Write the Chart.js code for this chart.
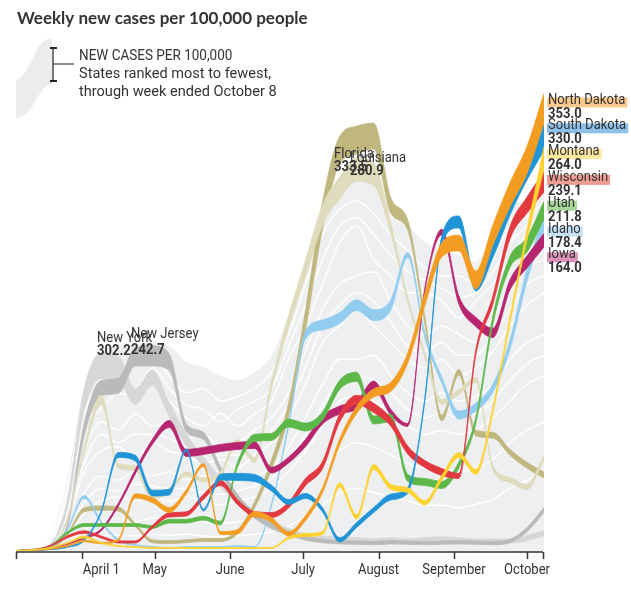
<!DOCTYPE html>
<html>
<head>
<meta charset="utf-8">
<script src="https://cdn.jsdelivr.net/npm/chart.js@4.4.1/dist/chart.umd.min.js"></script>
<style>
  html, body { margin: 0; padding: 0; background: #fff; }
  canvas { display: block; }
</style>
</head>
<body>
<canvas id="chart" width="631" height="589"></canvas>
<script>
// x values: days since March 1, one point per week (Mar 5 .. Oct 8)
const weekDays = [4, 11, 18, 25, 32, 39, 46, 53, 60, 67, 74, 81, 88, 95, 102, 109,
  116, 123, 130, 137, 144, 151, 158, 165, 172, 179, 186, 193, 200, 207, 214, 221];
const monthTicks = [31, 61, 92, 122, 153, 184, 214];
const monthLabels = ['April 1', 'May', 'June', 'July', 'August', 'September', 'October'];

// every state is stacked by rank: "base" = where its ribbon starts, "cases" = its width
// (weekly new cases per 100,000)
const otherTop = [12, 48, 192, 852, 1992, 2412, 2436, 2472, 2496, 2460, 2268, 2208, 2100, 2052, 2148, 2340,
  2832, 3396, 4092, 4452, 4500, 4452, 4092, 3912, 3708, 3612, 3552, 3468, 3792, 4152, 4212, 4392];
const otherEdge1 = [0, 40, 170, 760, 1800, 2250, 2150, 2300, 2350, 2100, 1900, 1950, 1800, 1850, 1950, 2150, 2600, 3200, 3800, 4100, 4200, 4050, 3800, 3600, 3400, 3300, 3300, 3200, 3500, 3900, 4000, 4200];
const otherEdge2 = [0, 30, 130, 600, 1500, 1700, 1900, 1850, 2000, 1800, 1600, 1500, 1650, 1500, 1650, 1800, 2300, 2700, 3200, 3700, 3900, 3500, 3300, 3100, 3100, 3000, 2800, 3000, 3200, 3500, 3800, 3900];
const otherEdge3 = [0, 25, 100, 480, 1200, 1550, 1450, 1650, 1500, 1550, 1350, 1400, 1250, 1300, 1450, 1600, 1900, 2400, 2900, 3200, 3300, 3350, 3000, 2700, 2600, 2700, 2600, 2500, 2800, 3100, 3400, 3500];
const otherEdge4 = [0, 18, 80, 350, 950, 1200, 1250, 1100, 1300, 1200, 1150, 1050, 1100, 1000, 1150, 1300, 1600, 2000, 2500, 2700, 2900, 2700, 2500, 2300, 2200, 2300, 2100, 2200, 2400, 2700, 2950, 3100];
const otherEdge5 = [0, 12, 55, 260, 700, 900, 850, 950, 900, 950, 850, 900, 800, 850, 900, 1000, 1250, 1600, 2000, 2300, 2300, 2350, 2100, 1900, 1800, 1900, 1800, 1850, 2000, 2300, 2500, 2600];
const otherEdge6 = [0, 8, 35, 170, 450, 600, 650, 600, 650, 600, 650, 600, 550, 600, 650, 750, 950, 1200, 1500, 1800, 1850, 1800, 1650, 1500, 1400, 1450, 1400, 1450, 1600, 1800, 2000, 2100];
const otherEdge7 = [0, 4, 20, 90, 250, 350, 380, 350, 400, 380, 380, 350, 330, 350, 400, 450, 600, 800, 1000, 1200, 1300, 1250, 1150, 1050, 1000, 1000, 950, 1000, 1100, 1300, 1450, 1550];
const otherEdge8 = [0, 2, 10, 40, 120, 180, 190, 180, 200, 190, 200, 180, 170, 180, 200, 230, 300, 420, 550, 700, 750, 700, 650, 600, 550, 550, 520, 560, 620, 750, 850, 950];
const otherEdge9 = [0, 35, 150, 680, 1650, 2000, 2050, 1950, 2200, 1950, 1750, 1700, 1550, 1700, 1800, 1950, 2450, 2950, 3500, 3900, 4000, 3800, 3550, 3350, 3250, 3150, 3050, 3100, 3350, 3700, 3900, 4050];
const otherEdge10 = [0, 20, 90, 420, 1050, 1400, 1300, 1400, 1400, 1350, 1250, 1200, 1150, 1150, 1300, 1450, 1750, 2200, 2700, 2950, 3100, 3000, 2750, 2450, 2400, 2500, 2350, 2350, 2600, 2900, 3200, 3300];
const otherEdge11 = [0, 10, 45, 210, 580, 750, 720, 800, 780, 750, 750, 700, 680, 720, 780, 870, 1100, 1400, 1750, 2050, 2100, 2050, 1900, 1700, 1600, 1650, 1600, 1650, 1800, 2050, 2250, 2350];

const nyBase = [0, 12, 60, 500, 1690, 2070, 2050, 1760, 1990, 1610, 1260, 1010, 770, 560, 390, 290, 210, 150, 130, 120, 110, 95, 110, 95, 110, 120, 110, 95, 95, 95, 125, 185];
const nyCases = [5, 12, 24, 96, 240, 302.2, 290, 190, 180, 170, 145, 120, 110, 95, 85, 70, 60, 60, 50, 50, 50, 50, 50, 50, 50, 50, 50, 50, 50, 50, 60, 60];
const njBase = [0, 12, 40, 265, 1380, 1865, 1890, 2220, 2220, 2165, 1430, 1340, 936, 612, 400, 270, 190, 130, 100, 85, 80, 75, 85, 80, 75, 80, 85, 80, 75, 100, 230, 462];
const njCases = [5, 12, 18, 50, 145, 180, 180, 220, 242.7, 200, 95, 85, 75, 70, 60, 60, 50, 45, 40, 40, 40, 40, 40, 40, 40, 40, 40, 40, 40, 40, 50, 60];
const flBase = [0, 10, 30, 180, 470, 490, 480, 295, 100, 90, 100, 115, 115, 205, 515, 980, 1615, 2650, 3875, 4645, 4765, 4825, 4060, 3850, 2730, 1560, 2110, 1380, 1355, 1150, 995, 876];
const flCases = [5, 6, 12, 25, 50, 50, 50, 35, 35, 35, 35, 35, 35, 45, 70, 110, 155, 240, 310, 330, 333.5, 310, 180, 120, 85, 70, 70, 70, 70, 70, 70, 70];
const laBase = [0, 10, 30, 355, 1175, 1760, 990, 965, 612, 708, 900, 828, 900, 1278, 1062, 1944, 2676, 3300, 3912, 4224, 4434, 4386, 3816, 2982, 2322, 1758, 1878, 2022, 966, 822, 738, 1086];
const laCases = [5, 6, 12, 35, 70, 110, 60, 60, 50, 50, 50, 50, 50, 60, 60, 95, 145, 190, 240, 265, 280.9, 275, 120, 60, 60, 60, 60, 60, 60, 60, 60, 60];
const idBase = [0, 10, 30, 240, 630, 336, 123, 66, 42, 30, 42, 42, 42, 54, 42, 540, 1488, 2550, 2652, 2730, 2886, 2766, 2892, 3522, 2562, 2016, 1584, 1680, 1908, 2418, 3240, 3858];
const idCases = [5, 6, 12, 25, 35, 25, 18, 12, 12, 12, 12, 12, 12, 12, 12, 25, 50, 85, 120, 130, 130, 130, 120, 60, 60, 70, 95, 95, 95, 110, 145, 178.4];
const iaBase = [0, 10, 20, 78, 147, 240, 534, 924, 1278, 1482, 1134, 1158, 1194, 1218, 1230, 936, 1056, 1254, 1524, 1644, 1704, 1944, 1632, 1494, 3114, 3792, 2964, 2694, 2562, 3132, 3396, 3648];
const iaCases = [5, 6, 10, 12, 18, 25, 35, 50, 60, 85, 85, 85, 85, 85, 85, 70, 70, 85, 95, 95, 95, 95, 70, 35, 35, 70, 95, 110, 110, 120, 145, 164];
const utBase = [0, 10, 54, 204, 294, 294, 294, 294, 270, 336, 336, 372, 312, 1002, 1314, 1326, 1488, 1440, 1572, 1938, 2034, 1524, 1548, 834, 786, 750, 996, 1536, 2724, 3402, 3588, 3984];
const utCases = [5, 6, 12, 25, 35, 35, 35, 35, 35, 45, 45, 45, 45, 60, 85, 85, 95, 95, 95, 110, 110, 95, 95, 85, 85, 85, 70, 70, 95, 130, 170, 211.8];
const wiBase = [0, 10, 54, 156, 213, 156, 96, 96, 270, 408, 420, 618, 786, 558, 414, 402, 516, 786, 990, 1548, 1758, 1662, 1500, 1164, 1002, 906, 870, 2358, 2964, 3744, 4056, 4308];
const wiCases = [5, 6, 12, 25, 30, 25, 25, 25, 35, 50, 50, 60, 60, 60, 60, 60, 70, 85, 85, 95, 110, 110, 95, 95, 85, 85, 60, 60, 95, 145, 190, 239.1];
const sdBase = [0, 10, 15, 42, 123, 456, 1122, 1080, 660, 672, 1200, 480, 852, 846, 834, 720, 558, 630, 468, 108, 282, 462, 612, 696, 1794, 3684, 3876, 3120, 3522, 4032, 4452, 4806];
const sdCases = [5, 6, 6, 12, 18, 25, 60, 70, 70, 70, 25, 25, 70, 85, 85, 70, 60, 60, 50, 50, 60, 60, 70, 70, 35, 95, 145, 145, 180, 240, 290, 330];
const ndBase = [0, 10, 20, 54, 111, 87, 120, 636, 582, 462, 684, 1014, 198, 204, 414, 342, 180, 366, 702, 1272, 1650, 1848, 1914, 2256, 2940, 3528, 3600, 3144, 3672, 4128, 4530, 5136];
const ndCases = [5, 6, 6, 12, 18, 18, 25, 50, 60, 60, 50, 35, 35, 50, 60, 60, 50, 60, 60, 70, 85, 95, 110, 120, 145, 170, 190, 215, 240, 290, 325, 353];
const mtBase = [0, 10, 30, 90, 156, 90, 54, 42, 30, 30, 30, 30, 30, 30, 30, 30, 144, 174, 198, 768, 384, 978, 738, 702, 552, 846, 1122, 918, 1662, 2736, 3732, 4584];
const mtCases = [5, 6, 12, 12, 25, 12, 12, 12, 12, 12, 12, 12, 12, 12, 12, 12, 25, 35, 35, 50, 50, 60, 60, 60, 50, 60, 60, 60, 60, 70, 120, 264];

const narrow = 'Roboto, "Open Sans", sans-serif';
const ink = '#333';

// drawing order: first entry at the bottom
const states = [
  { name: 'New York', color: '#d7d7d7', base: nyBase, cases: nyCases },
  { name: 'New Jersey', color: '#bababa', base: njBase, cases: njCases },
  { name: 'Florida', color: '#c0b77f', base: flBase, cases: flCases },
  { name: 'Louisiana', color: '#dfdcbd', base: laBase, cases: laCases },
  { name: 'Idaho', color: '#92cdef', base: idBase, cases: idCases },
  { name: 'Iowa', color: '#b8256f', base: iaBase, cases: iaCases },
  { name: 'Utah', color: '#5db84a', base: utBase, cases: utCases },
  { name: 'Wisconsin', color: '#e2383f', base: wiBase, cases: wiCases },
  { name: 'South Dakota', color: '#1f95d8', base: sdBase, cases: sdCases },
  { name: 'North Dakota', color: '#f29d22', base: ndBase, cases: ndCases },
  { name: 'Montana', color: '#fed22f', base: mtBase, cases: mtCases }
];

const endLabels = [
  { name: 'North Dakota', cases: ndCases, bar: '#fbc98b' },
  { name: 'South Dakota', cases: sdCases, bar: '#8ec1e9' },
  { name: 'Montana', cases: mtCases, bar: '#fde89e' },
  { name: 'Wisconsin', cases: wiCases, bar: '#ef9c94' },
  { name: 'Utah', cases: utCases, bar: '#a7d69a' },
  { name: 'Idaho', cases: idCases, bar: '#c5e2f4' },
  { name: 'Iowa', cases: iaCases, bar: '#dd94b8' }
];

function pts(arr) {
  return arr.map((v, i) => ({ x: weekDays[i], y: v }));
}

const datasets = [];
let order = 1000;
datasets.push({ data: pts(otherTop), fill: 'origin', backgroundColor: '#eeeff1', borderWidth: 0, order: order-- });
[otherEdge1, otherEdge2, otherEdge3, otherEdge4, otherEdge5, otherEdge6, otherEdge7, otherEdge8,
  otherEdge9, otherEdge10, otherEdge11].forEach(e => {
  datasets.push({ data: pts(e), fill: false, borderColor: 'rgba(255,255,255,0.9)', borderWidth: 1.5, order: order-- });
});
states.forEach(s => {
  const lowerIndex = datasets.length;
  const o = order--;
  datasets.push({ data: pts(s.base), fill: false, borderColor: s.color, borderWidth: 0.8, order: o });
  datasets.push({
    data: pts(s.base.map((b, i) => b + s.cases[i])),
    fill: { target: lowerIndex }, backgroundColor: s.color,
    borderColor: s.color, borderWidth: 0.8, order: o
  });
});

// narrow text: Roboto squeezed horizontally to imitate a condensed face
function text(ctx, str, x, y, weight, align, sq) {
  ctx.save();
  ctx.font = (weight || '') + ' 15px ' + narrow;
  ctx.textAlign = align || 'left';
  ctx.fillStyle = ink;
  ctx.translate(x, y);
  ctx.scale(sq || 0.87, 1);
  ctx.fillText(str, 0, 0);
  ctx.restore();
}
function textWidth(ctx, str, weight) {
  ctx.font = (weight || '') + ' 15px ' + narrow;
  return ctx.measureText(str).width * 0.87;
}

const decorations = {
  id: 'decorations',
  afterDatasetsDraw(chart) {
    const ctx = chart.ctx;
    const xs = chart.scales.x;
    const area = chart.chartArea;
    ctx.save();
    ctx.textBaseline = 'alphabetic';

    // title
    ctx.font = 'bold 17px Lato, "Open Sans", sans-serif';
    ctx.fillStyle = ink;
    ctx.textAlign = 'left';
    ctx.fillText('Weekly new cases per 100,000 people', 17, 24);

    // legend key: a ribbon with a bracket measuring its thickness
    ctx.fillStyle = '#ececec';
    ctx.beginPath();
    ctx.moveTo(16, 80);
    ctx.bezierCurveTo(30, 78, 34, 38, 52, 38);
    ctx.lineTo(52, 84);
    ctx.bezierCurveTo(38, 84, 34, 118, 16, 118);
    ctx.closePath();
    ctx.fill();
    ctx.strokeStyle = '#222';
    ctx.lineWidth = 1.2;
    ctx.beginPath();
    ctx.moveTo(53, 48); ctx.lineTo(53, 81);
    ctx.moveTo(53, 64); ctx.lineTo(74, 64);
    ctx.stroke();
    ctx.lineWidth = 2;
    ctx.beginPath();
    ctx.moveTo(50, 48); ctx.lineTo(57, 48);
    ctx.moveTo(50, 81); ctx.lineTo(57, 81);
    ctx.stroke();
    text(ctx, 'NEW CASES PER 100,000', 79, 60, '', 'left', 0.9);
    text(ctx, 'States ranked most to fewest,', 79, 78, '', 'left', 0.97);
    text(ctx, 'through week ended October 8', 79, 96, '', 'left', 0.97);

    // x axis
    const y0 = area.bottom + 1;
    ctx.strokeStyle = '#333';
    ctx.lineWidth = 1.5;
    ctx.beginPath();
    ctx.moveTo(area.left, y0); ctx.lineTo(area.right - 1, y0);
    [area.left, area.right - 1].concat(monthTicks.map(d => xs.getPixelForValue(d))).forEach(px => {
      ctx.moveTo(Math.round(px) + 0.5, y0); ctx.lineTo(Math.round(px) + 0.5, y0 + 7);
    });
    ctx.stroke();
    monthLabels.forEach((lab, i) => {
      const px = xs.getPixelForValue(monthTicks[i]);
      if (i === 0) text(ctx, lab, px + 1, y0 + 22, '', 'left');
      else text(ctx, lab, px, y0 + 22, '', 'center');
    });

    // peak labels
    const peak = arr => Math.max(...arr).toFixed(1);
    text(ctx, 'New York', 97, 342);
    text(ctx, peak(nyCases), 97, 355, 'bold');
    text(ctx, 'New Jersey', 131, 338);
    text(ctx, peak(njCases), 131, 354, 'bold');
    text(ctx, 'Florida', 334, 158);
    text(ctx, peak(flCases), 334, 171, 'bold');
    text(ctx, 'Louisiana', 350, 162);
    text(ctx, peak(laCases), 350, 175, 'bold');

    // end labels
    endLabels.forEach((l, k) => {
      const by = 103.5 + k * 25.8;
      const w = textWidth(ctx, l.name);
      ctx.fillStyle = l.bar;
      ctx.fillRect(547, by - 6, w + 3, 10);
      text(ctx, l.name, 548, by);
      text(ctx, l.cases[l.cases.length - 1].toFixed(1), 548, by + 14, 'bold');
    });
    ctx.restore();
  }
};

new Chart(document.getElementById('chart').getContext('2d'), {
  type: 'line',
  data: { datasets: datasets },
  options: {
    responsive: false,
    animation: false,
    layout: { padding: { left: 16, right: 87, top: 41, bottom: 38 } },
    elements: {
      point: { radius: 0, hoverRadius: 0 },
      line: { cubicInterpolationMode: 'monotone' }
    },
    scales: {
      x: { type: 'linear', min: 4, max: 221, display: false },
      y: { min: 0, max: 6120, display: false }
    },
    plugins: { legend: { display: false }, tooltip: { enabled: false } },
    events: []
  },
  plugins: [decorations]
});
</script>
</body>
</html>
